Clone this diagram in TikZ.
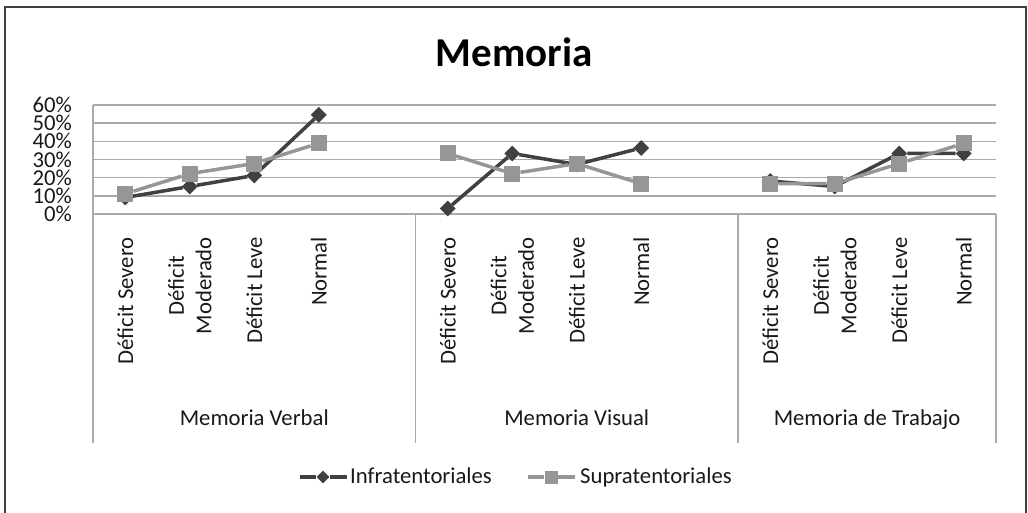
\documentclass[tikz,border=0pt]{standalone}
\usepackage{fontspec}
\setmainfont{Carlito}
\usepackage{tikz}
\usetikzlibrary{shapes}
\usetikzlibrary{positioning}
\usepackage{xcolor}
\definecolor{infracol}{RGB}{64,64,64}
\definecolor{supracol}{RGB}{150,150,150}
\definecolor{gridcol}{RGB}{170,170,170}
\definecolor{framecol}{RGB}{64,64,64}
\definecolor{textcol}{RGB}{25,25,25}
\newcommand{\chartfont}{\fontsize{22.7}{27.5}\selectfont}

\tikzset{
  gridline/.style={gridcol, line width=1.5pt},
  infraline/.style={infracol, line width=3.5pt},
  supraline/.style={supracol, line width=3.5pt},
  infrapt/.style={diamond, fill=infracol, inner sep=0, minimum size=16pt},
  suprapt/.style={rectangle, fill=supracol, inner sep=0, minimum size=16pt},
  ylab/.style={anchor=east, inner sep=0, text=textcol, font=\chartfont},
  catlab/.style={rotate=90, anchor=east, inner sep=0, align=center, text=textcol, font=\chartfont},
  grouplab/.style={anchor=base, inner sep=0, text=textcol, font=\chartfont},
  leglab/.style={anchor=base west, inner sep=0, text=textcol, font=\chartfont}
}

\begin{document}
\begin{tikzpicture}[x=1pt, y=-1pt]
\useasboundingbox (0,0) rectangle (1028,512);
\draw[framecol, line width=2pt] (5,7) rectangle (1026,520);
\node[font=\bfseries\fontsize{41}{49}\selectfont, text=black] (title) at (514,52) {Memoria};

% value axis, grid and labels
\begin{scope}[shift={(0,214)}, y=1.8167pt]
\draw[gridline] (93,0) -- (996,0);
\draw[gridline] (93,10) -- (996,10);
\draw[gridline] (93,20) -- (996,20);
\draw[gridline] (93,30) -- (996,30);
\draw[gridline] (93,40) -- (996,40);
\draw[gridline] (93,50) -- (996,50);
\draw[gridline] (93,60) -- (996,60);
\node[ylab] (y0) at (72,0) {0\%};
\node[ylab] (y10) at (72,10) {10\%};
\node[ylab] (y20) at (72,20) {20\%};
\node[ylab] (y30) at (72,30) {30\%};
\node[ylab] (y40) at (72,40) {40\%};
\node[ylab] (y50) at (72,50) {50\%};
\node[ylab] (y60) at (72,60) {60\%};
\end{scope}

% category axis
\draw[gridline] (93,105) -- (93,443);
\draw[gridline] (415.5,214) -- (415.5,443);
\draw[gridline] (738,214) -- (738,443);
\draw[gridline] (996,214) -- (996,443);

\node[catlab] (c1) at (125.25,237) {Déficit Severo};
\node[catlab] (c2) at (189.75,237) {Déficit\\Moderado};
\node[catlab] (c3) at (254.25,237) {Déficit Leve};
\node[catlab] (c4) at (318.75,237) {Normal};
\node[catlab] (c5) at (447.75,237) {Déficit Severo};
\node[catlab] (c6) at (512.25,237) {Déficit\\Moderado};
\node[catlab] (c7) at (576.75,237) {Déficit Leve};
\node[catlab] (c8) at (641.25,237) {Normal};
\node[catlab] (c9) at (770.25,237) {Déficit Severo};
\node[catlab] (c10) at (834.75,237) {Déficit\\Moderado};
\node[catlab] (c11) at (899.25,237) {Déficit Leve};
\node[catlab] (c12) at (963.75,237) {Normal};

\node[grouplab] (verbal) at (254.25,425) {Memoria Verbal};
\node[grouplab] (visual) at (576.75,425) {Memoria Visual};
\node[grouplab] (trabajo) at (867,425) {Memoria de Trabajo};

% series
\begin{scope}[shift={(0,214)}, y=1.8167pt]
\node[infrapt] (inf1) at (125.25,9.09) {};
\node[infrapt] (inf2) at (189.75,15.15) {};
\node[infrapt] (inf3) at (254.25,21.21) {};
\node[infrapt] (inf4) at (318.75,54.55) {};
\node[infrapt] (inf5) at (447.75,3.03) {};
\node[infrapt] (inf6) at (512.25,33.33) {};
\node[infrapt] (inf7) at (576.75,27.27) {};
\node[infrapt] (inf8) at (641.25,36.36) {};
\node[infrapt] (inf9) at (770.25,18.18) {};
\node[infrapt] (inf10) at (834.75,15.15) {};
\node[infrapt] (inf11) at (899.25,33.33) {};
\node[infrapt] (inf12) at (963.75,33.33) {};
\draw[infraline] (inf1) -- (inf2) -- (inf3) -- (inf4);
\draw[infraline] (inf5) -- (inf6) -- (inf7) -- (inf8);
\draw[infraline] (inf9) -- (inf10) -- (inf11) -- (inf12);

\node[suprapt] (sup1) at (125.25,11.11) {};
\node[suprapt] (sup2) at (189.75,22.22) {};
\node[suprapt] (sup3) at (254.25,27.78) {};
\node[suprapt] (sup4) at (318.75,38.89) {};
\node[suprapt] (sup5) at (447.75,33.33) {};
\node[suprapt] (sup6) at (512.25,22.22) {};
\node[suprapt] (sup7) at (576.75,27.78) {};
\node[suprapt] (sup8) at (641.25,16.67) {};
\node[suprapt] (sup9) at (770.25,16.67) {};
\node[suprapt] (sup10) at (834.75,16.67) {};
\node[suprapt] (sup11) at (899.25,27.78) {};
\node[suprapt] (sup12) at (963.75,38.89) {};
\draw[supraline] (sup1) -- (sup2) -- (sup3) -- (sup4);
\draw[supraline] (sup5) -- (sup6) -- (sup7) -- (sup8);
\draw[supraline] (sup9) -- (sup10) -- (sup11) -- (sup12);
\end{scope}

% legend
\coordinate (infa) at (300,477);
\node[infrapt, minimum size=13pt] (infm) at (323,477) {};
\coordinate (infb) at (347,477);
\draw[infraline] (infa) -- (infm) -- (infb);
\node[leglab] (inflab) at (350,483) {Infratentoriales};
\coordinate (supa) at (528,477);
\node[suprapt, minimum size=13pt] (supm) at (551,477) {};
\coordinate (supb) at (575,477);
\draw[supraline] (supa) -- (supm) -- (supb);
\node[leglab] (suplab) at (580,483) {Supratentoriales};
\end{tikzpicture}
\end{document}
